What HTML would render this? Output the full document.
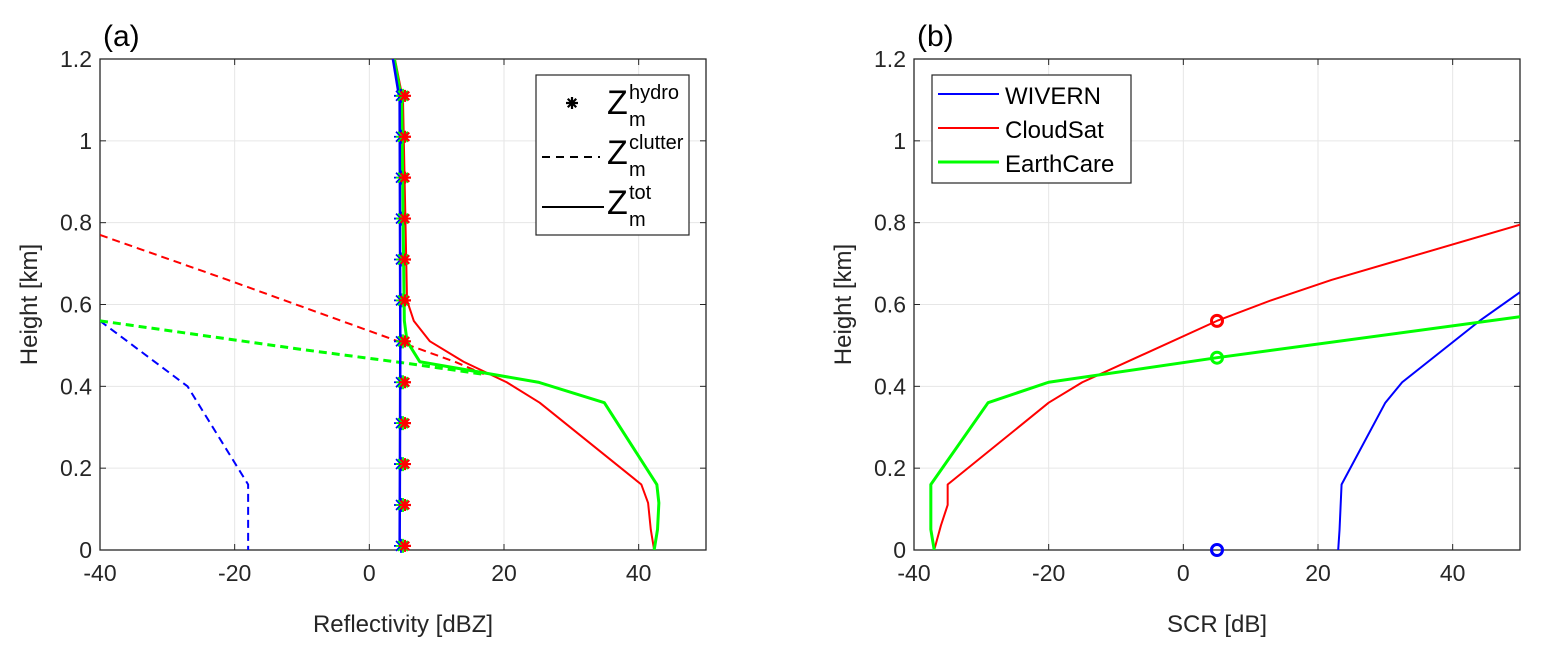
<!DOCTYPE html>
<html><head><meta charset="utf-8"><style>
body{margin:0;background:#fff;}
svg{display:block;font-family:"Liberation Sans",Arial,sans-serif;}
</style></head><body>
<svg id="c" width="1549" height="651" viewBox="0 0 1549 651" xmlns="http://www.w3.org/2000/svg"></svg>
<script>
const xTicks=[-40,-20,0,20,40];
const yTicks=[0,0.2,0.4,0.6,0.8,1,1.2];
const yTickLabels=["0","0.2","0.4","0.6","0.8","1","1.2"];
// panel a
const hydroH=[0.01,0.11,0.21,0.31,0.41,0.51,0.61,0.71,0.81,0.91,1.01,1.11];
const hydroV=[5,5,5,5,5,5,5,5,5,5,5,5];
const totBlueH=[0,0.5,1.1,1.2];const totBlueV=[4.5,4.6,4.5,3.5];
const totRedH=[0,0.05,0.115,0.16,0.36,0.41,0.46,0.51,0.56,0.61,1.1,1.2];
const totRedV=[42.3,41.8,41.4,40.4,25.3,20.4,14,9,6.6,5.6,5,3.8];
const totGreenH=[0,0.05,0.115,0.16,0.36,0.41,0.46,0.51,0.56,1.1,1.2];
const totGreenV=[42.3,42.8,43,42.7,34.9,25.1,7.5,5.6,5.2,4.8,3.7];
const clRedH=[0.77,0.66,0.46,0.43];const clRedV=[-40,-21,12.7,17];
const clGreenH=[0.56,0.49,0.458,0.43];const clGreenV=[-40,-10,4.8,16.7];
const clBlueH=[0.56,0.40,0.16,0];const clBlueV=[-40,-27,-18,-18];
// panel b
const scrBlueH=[0,0.05,0.16,0.36,0.41,0.56,0.63];const scrBlueV=[23,23.2,23.5,30,32.5,44,50];
const scrRedH=[0,0.06,0.11,0.16,0.36,0.41,0.56,0.61,0.66,0.795];const scrRedV=[-37,-36,-35,-35,-20,-15,5,13,22,50];
const scrGreenH=[0,0.05,0.16,0.36,0.41,0.47,0.57];const scrGreenV=[-37,-37.5,-37.5,-29,-20,5,50];
const circV=[5,5,5];const circH=[0,0.56,0.47];const circC=["#0000ff","#ff0000","#00ff00"];

const svg=document.getElementById('c');const NS="http://www.w3.org/2000/svg";
function mk(t,a,p){const e=document.createElementNS(NS,t);for(const k in a)e.setAttribute(k,a[k]);(p||svg).appendChild(e);return e;}
function axes(L,R,T,B){return{x:v=>L+(v+40)/90*(R-L),y:h=>B-h/1.2*(B-T),L,R,T,B};}
const A=axes(100,706,59,550),Bx=axes(914,1520,59,550);
function frame(ax,xl,tag,id){
 const g=mk('g',{});
 
 
 xTicks.forEach(t=>{const x=ax.x(t);mk('line',{x1:x,x2:x,y1:ax.T,y2:ax.B,stroke:'#e6e6e6','stroke-width':1},g);});
 yTicks.forEach(t=>{const y=ax.y(t);mk('line',{x1:ax.L,x2:ax.R,y1:y,y2:y,stroke:'#e6e6e6','stroke-width':1},g);});
 mk('rect',{x:ax.L,y:ax.T,width:ax.R-ax.L,height:ax.B-ax.T,fill:'none',stroke:'#262626','stroke-width':1.3},g);
 xTicks.forEach(t=>{const x=ax.x(t);mk('line',{x1:x,x2:x,y1:ax.B,y2:ax.B-6,stroke:'#262626'},g);mk('line',{x1:x,x2:x,y1:ax.T,y2:ax.T+6,stroke:'#262626'},g);
  const tx=mk('text',{x:x,y:ax.B+31,'font-size':23,'text-anchor':'middle',fill:'#262626'},g);tx.textContent=String(t);
  
  });
 yTicks.forEach((t,i)=>{const y=ax.y(t);mk('line',{x1:ax.L,x2:ax.L+6,y1:y,y2:y,stroke:'#262626'},g);mk('line',{x1:ax.R,x2:ax.R-6,y1:y,y2:y,stroke:'#262626'},g);
  const tx=mk('text',{x:ax.L-8,y:y+8,'font-size':23,'text-anchor':'end',fill:'#262626'},g);tx.textContent=yTickLabels[i];
  
  });
 const xt=mk('text',{x:(ax.L+ax.R)/2,y:ax.B+82,'font-size':24,'text-anchor':'middle',fill:'#262626'},g);xt.textContent=xl;
 
 
 const yt=mk('text',{x:0,y:0,'font-size':24,'text-anchor':'middle',fill:'#262626',transform:`translate(${ax.L-63},${(ax.T+ax.B)/2}) rotate(-90)`},g);yt.textContent='Height [km]';
 
 
 const tg=mk('text',{x:ax.L+3,y:ax.T-13,'font-size':30,fill:'#000'},g);tg.textContent=tag;
 
 
}
frame(A,'Reflectivity [dBZ]','(a)','panel-a');frame(Bx,'SCR [dB]','(b)','panel-b');
function clipFor(ax,id){const d=mk('clipPath',{id});mk('rect',{x:ax.L,y:ax.T,width:ax.R-ax.L,height:ax.B-ax.T},d);return `url(#${id})`;}
const ca=clipFor(A,'ca'),cb=clipFor(Bx,'cb');
function line(ax,V,H,col,w,dash,clip,name){const p=mk('polyline',{points:V.map((v,i)=>ax.x(v)+','+ax.y(H[i])).join(' '),fill:'none',stroke:col,'stroke-width':w,'clip-path':clip,'stroke-dasharray':dash||'none','stroke-linejoin':'round'});
 
 }
line(A,clBlueV,clBlueH,'#0000ff',2,'8,5',ca,'clutter-wivern');
line(A,clRedV,clRedH,'#ff0000',2,'8,5',ca,'clutter-cloudsat');
line(A,clGreenV,clGreenH,'#00ff00',3,'8,5',ca,'clutter-earthcare');
line(A,totRedV,totRedH,'#ff0000',2,null,ca,'total-cloudsat');
line(A,totGreenV,totGreenH,'#00ff00',3,null,ca,'total-earthcare');
line(A,totBlueV,totBlueH,'#0000ff',2.5,null,ca,'total-wivern');
function star(cx,cy,col,r,w){let d='';for(let k=0;k<4;k++){const a=k*Math.PI/4;d+=`M${cx-r*Math.cos(a)},${cy-r*Math.sin(a)}L${cx+r*Math.cos(a)},${cy+r*Math.sin(a)}`;}
 const p=mk('path',{d,stroke:col,'stroke-width':w||1.8});
 
 }
hydroH.forEach((h,i)=>{const x=A.x(hydroV[i]),y=A.y(h);star(x-2,y,'#0000ff',7);star(x,y,'#00ff00',7);star(x+2,y,'#ff0000',6,2.2);});
line(Bx,scrBlueV,scrBlueH,'#0000ff',2,null,cb,'scr-wivern');
line(Bx,scrRedV,scrRedH,'#ff0000',2,null,cb,'scr-cloudsat');
line(Bx,scrGreenV,scrGreenH,'#00ff00',3,null,cb,'scr-earthcare');
circV.forEach((v,i)=>{const c=mk('circle',{cx:Bx.x(v),cy:Bx.y(circH[i]),r:5.5,fill:'none',stroke:circC[i],'stroke-width':3});
 
 });
// legend a
const la=mk('g',{});


mk('rect',{x:536,y:75,width:153,height:160,fill:'#fff',stroke:'#262626','stroke-width':1.2},la);
{let d='';const cx=572,cy=103,r=6;for(let k=0;k<4;k++){const a=k*Math.PI/4;d+=`M${cx-r*Math.cos(a)},${cy-r*Math.sin(a)}L${cx+r*Math.cos(a)},${cy+r*Math.sin(a)}`;}mk('path',{d,stroke:'#000','stroke-width':2.2},la);}
mk('line',{x1:542,x2:600,y1:157,y2:157,stroke:'#000','stroke-width':2,'stroke-dasharray':'8,6'},la);
mk('line',{x1:542,x2:604,y1:207,y2:207,stroke:'#000','stroke-width':2},la);
[['hydro',114],['clutter',164],['tot',214]].forEach(([s,y])=>{const t=mk('text',{x:607,y:y,'font-size':34},la);t.textContent='Z';
 const a=mk('text',{x:629,y:y-15,'font-size':20},la);a.textContent=s;
 const b=mk('text',{x:629,y:y+12,'font-size':20},la);b.textContent='m';});
// legend b
const lb=mk('g',{});


mk('rect',{x:932,y:75,width:199,height:108,fill:'#fff',stroke:'#262626','stroke-width':1.2},lb);
[['WIVERN','#0000ff',2,95],['CloudSat','#ff0000',2,129],['EarthCare','#00ff00',3,163]].forEach(([n,c,w,y])=>{
 mk('line',{x1:938,x2:999,y1:y-1,y2:y-1,stroke:c,'stroke-width':w},lb);
 const t=mk('text',{x:1005,y:y+9,'font-size':24},lb);t.textContent=n;});
</script>
</body></html>
